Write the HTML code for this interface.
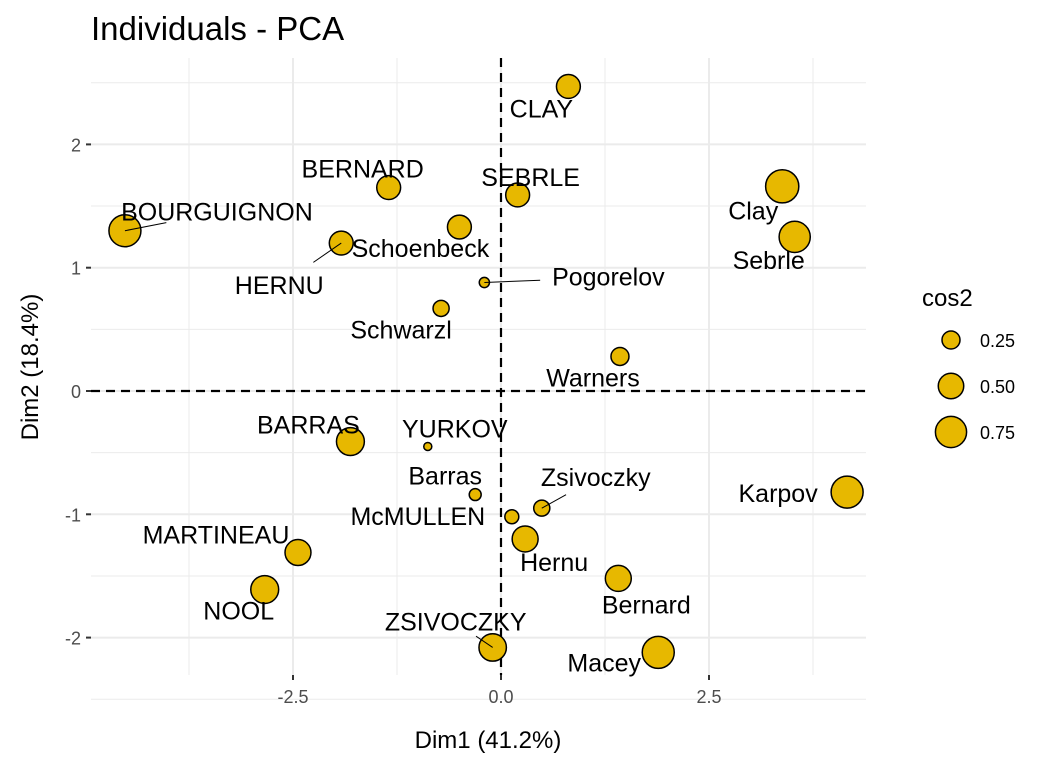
<!DOCTYPE html>
<html><head><meta charset="utf-8"><style>body{margin:0;background:#fff}svg{display:block;font-family:"Liberation Sans",Arial,sans-serif}</style></head>
<body>
<svg id="chart" width="1056" height="768" viewBox="0 0 1056 768">
<text x="91" y="40" font-size="33" fill="#000">Individuals - PCA</text>
<g id="grid"></g>
<g id="axes"></g>
<g id="marks"></g>
<text x="488" y="748" font-size="24" text-anchor="middle">Dim1 (41.2%)</text>
<text transform="translate(38,367) rotate(-90)" font-size="24" text-anchor="middle">Dim2 (18.4%)</text>
<g id="legend">
<text x="922" y="306" font-size="24">cos2</text>
</g>
</svg>
<script>
const names = ["CLAY","BERNARD","SEBRLE","BOURGUIGNON","Schoenbeck","HERNU","Pogorelov","Schwarzl","Clay","Sebrle","Warners","BARRAS","YURKOV","Barras","McMULLEN","Zsivoczky","Hernu","Karpov","MARTINEAU","NOOL","Bernard","ZSIVOCZKY","Macey"];
const dim1 = [0.81,-1.35,0.2,-4.52,-0.5,-1.92,-0.2,-0.72,3.38,3.53,1.43,-1.81,-0.88,-0.31,0.13,0.49,0.29,4.16,-2.44,-2.84,1.41,-0.1,1.89];
const dim2 = [2.47,1.65,1.59,1.3,1.33,1.2,0.88,0.67,1.66,1.25,0.28,-0.41,-0.45,-0.84,-1.02,-0.95,-1.2,-0.82,-1.31,-1.61,-1.52,-2.08,-2.12];
const cos2 = [0.44,0.44,0.44,0.79,0.44,0.44,0.08,0.2,0.85,0.75,0.25,0.6,0.05,0.11,0.15,0.2,0.52,0.79,0.52,0.6,0.52,0.58,0.79];
const xTicks = [-2.5,0,2.5];
const xTickLabels = ["-2.5","0.0","2.5"];
const yTicks = [-2,-1,0,1,2];
const yTickLabels = ["-2","-1","0","1","2"];
const legendValues = [0.25,0.5,0.75];
const legendLabels = ["0.25","0.50","0.75"];
// label offsets (layout): dx,dy from point to label center/baseline; seg: draw leader line
const lab = [[-27,31],[-26,-10],[13,-9],[92,-10,1],[-39,30],[-62,51,1],[124,3,1],[-40,30],[-29,33],[-26,32],[-27,30],[-42,-8],[27,-9],[-30,-10],[-94,8],[54,-22,1],[29,32],[-69,10],[-82,-9],[-26,30],[28,35],[-37,-17,1],[-54,19]];
const L=91,R=866,T=58,B=675;
const X=v=>501+v*83.2, Y=v=>391-v*123.3, rad=c=>18*Math.sqrt(c);
const NS="http://www.w3.org/2000/svg";
function mk(tag,attrs,parent){const e=document.createElementNS(NS,tag);for(const k in attrs)e.setAttribute(k,attrs[k]);parent.appendChild(e);return e;}
const grid=document.getElementById('grid'),axes=document.getElementById('axes'),marks=document.getElementById('marks'),legend=document.getElementById('legend');
for(let v=-3.75;v<=4.5;v+=1.25){const g=mk('line',{x1:X(v),x2:X(v),y1:T,y2:B,stroke:'#ebebeb','stroke-width':(Math.abs(v/2.5-Math.round(v/2.5))<1e-6)?2:1},grid);}
for(let v=-2.5;v<=2.5;v+=0.5){const g=mk('line',{x1:L,x2:R,y1:Y(v),y2:Y(v),stroke:'#ebebeb','stroke-width':(Math.abs(v-Math.round(v))<1e-6)?2:1},grid);}
xTicks.forEach((v,i)=>{mk('line',{x1:X(v),x2:X(v),y1:B,y2:B+5,stroke:'#333','stroke-width':2},axes);const t=mk('text',{x:X(v),y:B+28,'font-size':18,fill:'#4d4d4d','text-anchor':'middle'},axes);t.textContent=xTickLabels[i];});
yTicks.forEach((v,i)=>{mk('line',{x1:L-5,x2:L,y1:Y(v),y2:Y(v),stroke:'#333','stroke-width':2},axes);const t=mk('text',{x:L-10,y:Y(v)+7,'font-size':18,fill:'#4d4d4d','text-anchor':'end'},axes);t.textContent=yTickLabels[i];});
mk('line',{x1:X(0),x2:X(0),y1:T,y2:B,stroke:'#000','stroke-width':2.2,'stroke-dasharray':'9,6'},axes);
mk('line',{x1:L,x2:R,y1:Y(0),y2:Y(0),stroke:'#000','stroke-width':2.2,'stroke-dasharray':'9,6'},axes);
names.forEach((n,i)=>{const px=X(dim1[i]),py=Y(dim2[i]);const o=lab[i];
 const c=mk('circle',{cx:px,cy:py,r:rad(cos2[i]),fill:'#E7B800',stroke:'#000','stroke-width':1.5},marks);
 
 
 if(o[2]){const lx=px+o[0],ly=py+o[1]-8;const f=0.45;const ln=mk('line',{x1:px,y1:py,x2:px+(lx-px)*f,y2:py+(ly-py)*f,stroke:'#000','stroke-width':1},marks);}
});
names.forEach((n,i)=>{const px=X(dim1[i]),py=Y(dim2[i]);const o=lab[i];
 const t=mk('text',{x:px+o[0],y:py+o[1],'font-size':25,'text-anchor':'middle',fill:'#000'},marks);t.textContent=n;
 
 
});
legendValues.forEach((v,i)=>{const cy=340+i*46;const c=mk('circle',{cx:951,cy:cy,r:rad(v),fill:'#E7B800',stroke:'#000','stroke-width':1.5},legend);
 const t=mk('text',{x:980,y:cy+7,'font-size':18,fill:'#000'},legend);t.textContent=legendLabels[i];});
</script>
</body></html>
